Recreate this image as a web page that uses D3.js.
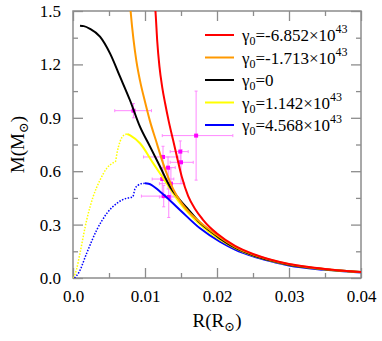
<!DOCTYPE html>
<html>
<head>
<meta charset="utf-8">
<script src="https://cdn.jsdelivr.net/npm/d3@7"></script>
<style>
  body { margin: 0; background: #fff; }
  svg { display: block; }
  text { font-family: "Liberation Serif", "DejaVu Serif", serif; }
</style>
</head>
<body>
<div id="chart"></div>
<script>
// curves: [R, M]
const redCurve = [[0.0113,1.56],[0.01145,1.5],[0.0117,1.33],[0.0120,1.19],[0.0124,1.07],[0.0128,0.98],[0.0133,0.88],[0.0139,0.775],[0.0145,0.67],[0.0151,0.57],[0.0160,0.46],[0.0170,0.385],[0.0180,0.33],[0.0190,0.285],[0.0200,0.25],[0.0225,0.18],[0.025,0.135],[0.0275,0.103],[0.030,0.079],[0.0325,0.063],[0.035,0.051],[0.0375,0.041],[0.040,0.034]];
const orangeCurve = [[0.0079,1.55],[0.0080,1.5],[0.0084,1.34],[0.0088,1.22],[0.0093,1.11],[0.0100,0.99],[0.0107,0.88],[0.0115,0.775],[0.0125,0.645],[0.0139,0.50],[0.0150,0.425],[0.0160,0.375],[0.0176,0.315],[0.0190,0.27],[0.0200,0.24],[0.0225,0.175],[0.025,0.132],[0.0275,0.101],[0.030,0.077],[0.035,0.05],[0.040,0.033]];
const blackCurve = [[0.00097,1.417],[0.0015,1.415],[0.00236,1.40],[0.00375,1.356],[0.00514,1.262],[0.00653,1.131],[0.0079,1.0],[0.0093,0.85],[0.0107,0.738],[0.0121,0.625],[0.01347,0.513],[0.01486,0.438],[0.0160,0.385],[0.01764,0.31],[0.0190,0.265],[0.0204,0.223],[0.0225,0.17],[0.025,0.128],[0.0275,0.098],[0.030,0.075],[0.035,0.049],[0.040,0.033]];
const yellowDotted = [[0.0001,0],[0.0005,0.05],[0.00097,0.139],[0.0019,0.326],[0.0028,0.457],[0.00375,0.55],[0.00468,0.616],[0.0056,0.648],[0.0059,0.655],[0.0061,0.70],[0.00653,0.766],[0.0070,0.80],[0.00754,0.809]];
const yellowSolid = [[0.00754,0.809],[0.0080,0.80],[0.0093,0.757],[0.01115,0.644],[0.0130,0.532],[0.01486,0.42],[0.01764,0.30],[0.0204,0.215],[0.0225,0.168],[0.025,0.126],[0.0275,0.097],[0.030,0.074],[0.035,0.048],[0.040,0.032]];
const blueDotted = [[0.0002,0],[0.0008,0.03],[0.0019,0.139],[0.0033,0.27],[0.0047,0.363],[0.0061,0.42],[0.00746,0.448],[0.0080,0.452],[0.0083,0.456],[0.0086,0.50],[0.0090,0.52],[0.0095,0.53],[0.0100,0.532]];
const blueSolid = [[0.0100,0.532],[0.0105,0.530],[0.0121,0.485],[0.01486,0.382],[0.01764,0.279],[0.0204,0.204],[0.0225,0.16],[0.025,0.122],[0.0275,0.094],[0.030,0.07],[0.035,0.046],[0.040,0.031]];

// observed points: R, M, R low, R high, M low, M high
const obsR    = [0.0084, 0.0171, 0.0149, 0.0150, 0.0125, 0.0132, 0.0124, 0.0136, 0.0126, 0.0133];
const obsM    = [0.94,   0.80,   0.71,   0.65,   0.68,   0.62,   0.556,  0.53,   0.46,   0.455];
const obsRlo  = [0.0058, 0.0124, 0.0135, 0.0135, 0.0098, 0.0121, 0.0110, 0.0120, 0.0095, 0.0120];
const obsRhi  = [0.0109, 0.0222, 0.0160, 0.0167, 0.0146, 0.0142, 0.0140, 0.0155, 0.0144, 0.0145];
const obsMlo  = [0.90,   0.55,   0.66,   0.53,   0.56,   0.50,   0.48,   0.44,   0.40,   0.34];
const obsMhi  = [0.98,   1.05,   0.77,   0.72,   0.74,   0.68,   0.62,   0.62,   0.52,   0.61];

const legendColors = ["#ff0000", "#ff9900", "#000000", "#ffff00", "#0000ff"];
const legendValues = ["-6.852×10", "-1.713×10", "0", "1.142×10", "4.568×10"];
const legendPowers = ["43", "43", "", "43", "43"];

const xTicks = [0, 0.01, 0.02, 0.03, 0.04];
const xMinor = [0.005, 0.015, 0.025, 0.035];
const yTicks = [0, 0.3, 0.6, 0.9, 1.2, 1.5];
const yMinor = [0.15, 0.45, 0.75, 1.05, 1.35];

const width = 382, height = 341;
const margin = {top: 11, right: 21, bottom: 63, left: 73};
const iw = width - margin.left - margin.right;
const ih = height - margin.top - margin.bottom;

const svg = d3.select("#chart").append("svg")
  .attr("width", width).attr("height", height);

const g = svg.append("g").attr("transform", `translate(${margin.left},${margin.top})`);

const x = d3.scaleLinear().domain([0, 0.04]).range([0, iw]);
const y = d3.scaleLinear().domain([0, 1.5]).range([ih, 0]);

g.append("clipPath").attr("id", "clip")
  .append("rect").attr("width", iw).attr("height", ih);

const frameColor = "#8c8c8c";
const xfmt = d => d === 0 ? "0.0" : d3.format(".2f")(d);

//axes, ticks point inward
function styleAxis(sel) {
  sel.select(".domain").remove();
  sel.selectAll("line").attr("stroke", frameColor).attr("stroke-width", 1.3);
  sel.selectAll("text").attr("fill", "#000").style("font-size", "17px")
    .style("font-family", "'Liberation Serif', serif");
}
g.append("g").attr("transform", `translate(0,${ih})`)
  .call(d3.axisBottom(x).tickValues(xTicks).tickFormat(xfmt).tickSize(-10).tickPadding(12))
  .call(styleAxis);
g.append("g").attr("transform", `translate(0,${ih})`)
  .call(d3.axisBottom(x).tickValues(xMinor).tickFormat("").tickSize(-5)).call(styleAxis);
g.append("g")
  .call(d3.axisTop(x).tickValues(xTicks).tickFormat("").tickSize(-10)).call(styleAxis);
g.append("g")
  .call(d3.axisTop(x).tickValues(xMinor).tickFormat("").tickSize(-5)).call(styleAxis);
g.append("g")
  .call(d3.axisLeft(y).tickValues(yTicks).tickFormat(d3.format(".1f")).tickSize(-10).tickPadding(12))
  .call(styleAxis);
g.append("g")
  .call(d3.axisLeft(y).tickValues(yMinor).tickFormat("").tickSize(-5)).call(styleAxis);
g.append("g").attr("transform", `translate(${iw},0)`)
  .call(d3.axisRight(y).tickValues(yTicks).tickFormat("").tickSize(-10)).call(styleAxis);
g.append("g").attr("transform", `translate(${iw},0)`)
  .call(d3.axisRight(y).tickValues(yMinor).tickFormat("").tickSize(-5)).call(styleAxis);

g.append("rect").attr("width", iw).attr("height", ih)
  .attr("fill", "none").attr("stroke", frameColor).attr("stroke-width", 1.5);

// error bars
const eb = g.append("g").attr("clip-path", "url(#clip)");
const pink = "#ff88ff";
obsR.forEach((r, i) => {
  eb.append("line").attr("x1", x(obsRlo[i])).attr("x2", x(obsRhi[i]))
    .attr("y1", y(obsM[i])).attr("y2", y(obsM[i])).attr("stroke", pink).attr("stroke-width", 1);
  eb.append("line").attr("x1", x(r)).attr("x2", x(r))
    .attr("y1", y(obsMlo[i])).attr("y2", y(obsMhi[i])).attr("stroke", pink).attr("stroke-width", 1);
  [obsRlo[i], obsRhi[i]].forEach(v => eb.append("line")
    .attr("x1", x(v)).attr("x2", x(v)).attr("y1", y(obsM[i]) - 1.5).attr("y2", y(obsM[i]) + 1.5)
    .attr("stroke", pink).attr("stroke-width", 1));
  [obsMlo[i], obsMhi[i]].forEach(v => eb.append("line")
    .attr("x1", x(r) - 1.5).attr("x2", x(r) + 1.5).attr("y1", y(v)).attr("y2", y(v))
    .attr("stroke", pink).attr("stroke-width", 1));
});

// curves
const line = d3.line().x(d => x(d[0])).y(d => y(d[1])).curve(d3.curveMonotoneX);
const cg = g.append("g").attr("clip-path", "url(#clip)");
const curves = [
  {data: yellowDotted, color: "#ffff00", dash: "1.5 1.5", w: 1.5},
  {data: blueDotted, color: "#0000ff", dash: "1.5 1.5", w: 1.5},
  {data: blueSolid, color: "#0000ff", dash: null, w: 2},
  {data: yellowSolid, color: "#ffff00", dash: null, w: 2},
  {data: blackCurve, color: "#000000", dash: null, w: 2},
  {data: orangeCurve, color: "#ff9900", dash: null, w: 2},
  {data: redCurve, color: "#ff0000", dash: null, w: 2}
];
curves.forEach(c => {
  cg.append("path").datum(c.data).attr("d", line)
    .attr("fill", "none").attr("stroke", c.color).attr("stroke-width", c.w)
    .attr("stroke-dasharray", c.dash);
});

// point markers
eb.selectAll("rect.pt").data(obsR).join("rect").attr("class", "pt")
  .attr("x", (d) => x(d) - 2).attr("y", (d, i) => y(obsM[i]) - 2)
  .attr("width", 4).attr("height", 4).attr("fill", "#ff00ff");

// legend
const lg = svg.append("g").attr("transform", "translate(205,35)");
legendColors.forEach((c, i) => {
  const row = lg.append("g").attr("transform", `translate(0,${i * 22.5})`);
  row.append("line").attr("x1", 0).attr("x2", 29).attr("stroke", c).attr("stroke-width", 2);
  const t = row.append("text").attr("x", 37).attr("y", 6).style("font-size", "17px");
  t.append("tspan").text("γ");
  t.append("tspan").attr("dy", 4).style("font-size", "12px").text("0");
  t.append("tspan").attr("dy", -4).text("=" + legendValues[i]);
  if (legendPowers[i]) t.append("tspan").attr("dy", -8).style("font-size", "12px").text(legendPowers[i]);
});

// axis titles
const yt = svg.append("text").attr("transform", `translate(24,${margin.top + ih / 2}) rotate(-90)`)
  .attr("text-anchor", "middle").style("font-size", "19px");
yt.append("tspan").text("M(M");
yt.append("tspan").attr("dy", 4).style("font-size", "13px").text("⊙");
yt.append("tspan").attr("dy", -4).text(")");

const xt = svg.append("text").attr("x", margin.left + iw / 2).attr("y", 327)
  .attr("text-anchor", "middle").style("font-size", "19px");
xt.append("tspan").text("R(R");
xt.append("tspan").attr("dy", 4).style("font-size", "13px").text("⊙");
xt.append("tspan").attr("dy", -4).text(")");
</script>
</body>
</html>
